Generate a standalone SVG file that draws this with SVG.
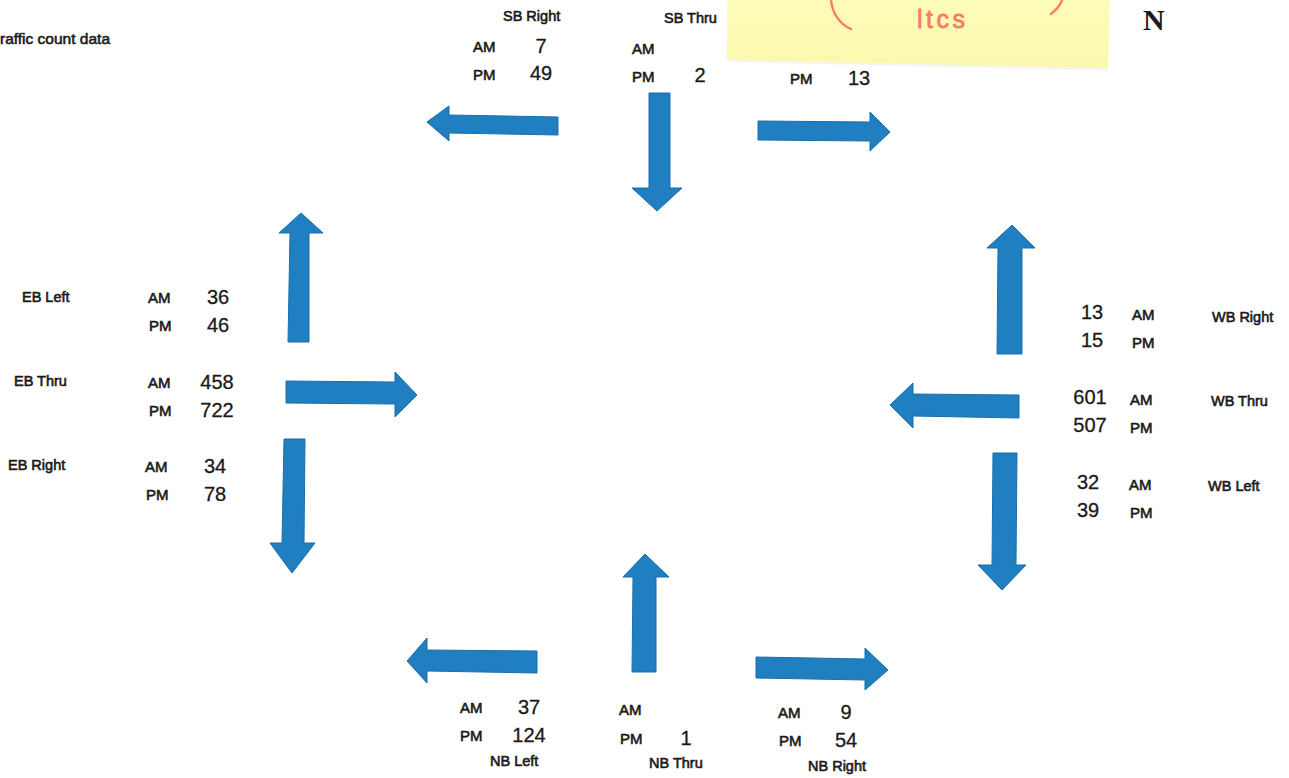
<svg xmlns="http://www.w3.org/2000/svg" width="1289" height="778" viewBox="0 0 1289 778">
  <style>
    .lbl { font-family: "Liberation Sans", Arial, sans-serif; font-size: 14.5px; fill: #1a1a1a; stroke: #1a1a1a; stroke-width: 0.6px; }
    .per { font-family: "Liberation Sans", Arial, sans-serif; font-size: 15px; fill: #1a1a1a; stroke: #1a1a1a; stroke-width: 0.6px; }
    .num { font-family: "Liberation Sans", Arial, sans-serif; font-size: 20px; fill: #1a1a1a; stroke: #1a1a1a; stroke-width: 0.3px; text-anchor: middle; }
    .arrow { fill: #1f7fc0; stroke: #1b6fa9; stroke-width: 1; stroke-linejoin: miter; }
    .ink { fill: none; stroke: #f47e69; stroke-width: 2.4; stroke-linecap: round; }
  </style>
  <defs>
    <linearGradient id="noteFill" x1="0" y1="0" x2="0" y2="1">
      <stop offset="0" stop-color="#fdfbb8"/>
      <stop offset="1" stop-color="#fbf8ae"/>
    </linearGradient>
  </defs>

  <rect width="1289" height="778" fill="#ffffff"/>

  <!-- title fragment -->
  <g id="title">
    <text class="lbl" x="0" y="44" style="font-size:15.5px">raffic count data</text>
  </g>

  <!-- sticky note with handwriting -->
  <g id="sticky-note">
    <polygon points="729,2 1109,2 1108,71 729,62" fill="#ececE6" opacity="0.5"/>
    <polygon points="727,0 1110,0 1108,68 727,60" fill="url(#noteFill)"/>
    <path class="ink" d="M831,0 C832,12 839,24 851,29"/>
    <path class="ink" d="M1062,0 C1060,6 1056,10 1051,14"/>
    <text x="917" y="28" font-family="'Liberation Sans', Arial, sans-serif" font-size="25" fill="#f47e69" stroke="#f47e69" stroke-width="0.8" letter-spacing="3.5">ltcs</text>
  </g>

  <!-- north label -->
  <g id="north">
    <text x="1143" y="30" font-family="'Liberation Serif', 'Times New Roman', serif" font-size="30" font-weight="bold" fill="#1a1a1a">N</text>
  </g>

  <!-- movement arrows -->
  <g id="connectors">
    <!-- southbound -->
    <polygon class="arrow" points="427,122 449,106 449,115 558,117 558,135 449,133 449,141"/>
    <polygon class="arrow" points="649,93 670,93 670,188 682,188 657,211 632,188 649,188"/>
    <polygon class="arrow" points="758,121 870,122 870,112 890,132 870,151 870,141 758,140"/>
    <!-- eastbound -->
    <polygon class="arrow" points="288,342 290,233 279,233 301,213 323,233 309,233 309,342"/>
    <polygon class="arrow" points="286,381 395,382 395,372 417,395 395,417 395,404 286,403"/>
    <polygon class="arrow" points="284,439 305,439 304,543 315,543 292,573 270,543 282,543"/>
    <!-- westbound -->
    <polygon class="arrow" points="997,354 998,248 987,248 1012,225 1035,248 1022,248 1022,354"/>
    <polygon class="arrow" points="890,405 913,383 913,394 1019,395 1019,418 913,416 913,428"/>
    <polygon class="arrow" points="993,453 1017,453 1016,565 1026,565 1002,590 978,565 992,565"/>
    <!-- northbound -->
    <polygon class="arrow" points="407,661 427,638 427,650 537,651 537,673 427,671 427,683"/>
    <polygon class="arrow" points="632,672 633,577 623,577 645,554 669,577 656,577 656,672"/>
    <polygon class="arrow" points="756,657 865,659 865,648 888,670 865,690 865,680 756,678"/>
  </g>

  <!-- southbound counts -->
  <g id="sb-right">
    <text class="lbl" x="503" y="21">SB Right</text>
    <text class="per" x="473" y="52">AM</text>
    <text class="num" x="541" y="53">7</text>
    <text class="per" x="473" y="80">PM</text>
    <text class="num" x="541" y="80">49</text>
  </g>
  <g id="sb-thru">
    <text class="lbl" x="664" y="23">SB Thru</text>
    <text class="per" x="632" y="54">AM</text>
    <text class="per" x="632" y="82">PM</text>
    <text class="num" x="700" y="82">2</text>
  </g>
  <g id="sb-left">
    <text class="per" x="790" y="84">PM</text>
    <text class="num" x="859" y="85">13</text>
  </g>

  <!-- eastbound counts -->
  <g id="eb-left">
    <text class="lbl" x="22" y="302">EB Left</text>
    <text class="per" x="148" y="303">AM</text>
    <text class="num" x="218" y="304">36</text>
    <text class="per" x="149" y="331">PM</text>
    <text class="num" x="218" y="332">46</text>
  </g>
  <g id="eb-thru">
    <text class="lbl" x="14" y="386">EB Thru</text>
    <text class="per" x="148" y="388">AM</text>
    <text class="num" x="217" y="389">458</text>
    <text class="per" x="149" y="416">PM</text>
    <text class="num" x="217" y="417">722</text>
  </g>
  <g id="eb-right">
    <text class="lbl" x="8" y="470">EB Right</text>
    <text class="per" x="145" y="472">AM</text>
    <text class="num" x="215" y="473">34</text>
    <text class="per" x="146" y="500">PM</text>
    <text class="num" x="215" y="501">78</text>
  </g>

  <!-- westbound counts -->
  <g id="wb-right">
    <text class="num" x="1092" y="319">13</text>
    <text class="per" x="1132" y="320">AM</text>
    <text class="lbl" x="1212" y="322">WB Right</text>
    <text class="num" x="1092" y="347">15</text>
    <text class="per" x="1132" y="348">PM</text>
  </g>
  <g id="wb-thru">
    <text class="num" x="1090" y="404">601</text>
    <text class="per" x="1130" y="405">AM</text>
    <text class="lbl" x="1211" y="406">WB Thru</text>
    <text class="num" x="1090" y="432">507</text>
    <text class="per" x="1130" y="433">PM</text>
  </g>
  <g id="wb-left">
    <text class="num" x="1088" y="489">32</text>
    <text class="per" x="1129" y="490">AM</text>
    <text class="lbl" x="1208" y="491">WB Left</text>
    <text class="num" x="1088" y="517">39</text>
    <text class="per" x="1130" y="518">PM</text>
  </g>

  <!-- northbound counts -->
  <g id="nb-left">
    <text class="per" x="460" y="713">AM</text>
    <text class="num" x="529" y="714">37</text>
    <text class="per" x="460" y="741">PM</text>
    <text class="num" x="529" y="742">124</text>
    <text class="lbl" x="490" y="766">NB Left</text>
  </g>
  <g id="nb-thru">
    <text class="per" x="619" y="715">AM</text>
    <text class="per" x="620" y="744">PM</text>
    <text class="num" x="686" y="745">1</text>
    <text class="lbl" x="649" y="768">NB Thru</text>
  </g>
  <g id="nb-right">
    <text class="per" x="778" y="718">AM</text>
    <text class="num" x="846" y="719">9</text>
    <text class="per" x="779" y="746">PM</text>
    <text class="num" x="846" y="747">54</text>
    <text class="lbl" x="808" y="771">NB Right</text>
  </g>
</svg>
